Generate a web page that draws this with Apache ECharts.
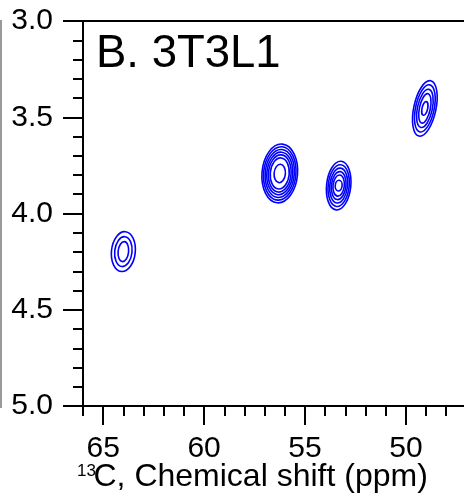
<!DOCTYPE html>
<html>
<head>
<meta charset="utf-8">
<script src="https://cdn.jsdelivr.net/npm/echarts@6.0.0/dist/echarts.min.js"></script>
<style>
html,body{margin:0;padding:0;background:#fff;}
#chart{width:464px;height:499px;}
</style>
</head>
<body>
<div id="chart"></div>
<script>
// ---- data (ppm) ----
const panelTitle = 'B. 3T3L1';
const xTickLabels = [50, 55, 60, 65];
const xMinorTicks = [48, 49, 51, 52, 53, 54, 56, 57, 58, 59, 61, 62, 63, 64, 66];
const yTickLabels = [3.0, 3.5, 4.0, 4.5, 5.0];
const peakC13 = [64.0, 56.25, 53.33, 49.06];
const peakH1 = [4.198, 3.792, 3.855, 3.454];
const peakTilt = [6, 5, 6, 12];
const ringHalfC13 = [
  [0.59, 0.43, 0.26],
  [0.88, 0.80, 0.72, 0.64, 0.56, 0.47, 0.28],
  [0.60, 0.52, 0.44, 0.36, 0.28, 0.17],
  [0.55, 0.46, 0.37, 0.27, 0.14]
];
const ringHalfH1 = [
  [0.104, 0.078, 0.052],
  [0.153, 0.139, 0.125, 0.111, 0.097, 0.081, 0.048],
  [0.127, 0.109, 0.091, 0.073, 0.055, 0.028],
  [0.147, 0.125, 0.101, 0.078, 0.036]
];

const ringData = [];
peakC13.forEach((c, i) => {
  ringHalfC13[i].forEach((rx, j) => {
    ringData.push([c, peakH1[i], rx * 2, ringHalfH1[i][j] * 2, peakTilt[i]]);
  });
});

const FONT = 'Liberation Sans, Arial, sans-serif';
const chart = echarts.init(document.getElementById('chart'), null, {renderer: 'canvas'});
const black = {color: '#000', width: 2};

chart.setOption({
  animation: false,
  backgroundColor: '#fff',
  grid: {left: 83, right: 0, top: 21, bottom: 93},
  xAxis: [
    {
      type: 'value', inverse: true, min: 47.12, max: 66, position: 'bottom',
      axisLine: {show: true, lineStyle: black},
      axisTick: {show: true, length: 19, lineStyle: black, customValues: xTickLabels},
      axisLabel: {show: true, customValues: xTickLabels, fontSize: 30, color: '#000', margin: 28, fontFamily: FONT},
      splitLine: {show: false}
    },
    {
      type: 'value', inverse: true, min: 47.12, max: 66, position: 'bottom',
      axisLine: {show: false},
      axisTick: {show: true, length: 10, lineStyle: black, customValues: xMinorTicks},
      axisLabel: {show: false},
      splitLine: {show: false}
    },
    {
      type: 'value', inverse: true, min: 47.12, max: 66, position: 'top',
      axisLine: {show: true, lineStyle: black},
      axisTick: {show: false},
      axisLabel: {show: false},
      splitLine: {show: false}
    }
  ],
  yAxis: {
    type: 'value', inverse: true, min: 3, max: 5, interval: 0.5,
    axisLine: {show: true, lineStyle: black},
    axisTick: {show: true, length: 20, lineStyle: black},
    minorTick: {show: true, splitNumber: 5, length: 10, lineStyle: black},
    axisLabel: {fontSize: 30, color: '#000', margin: 30, fontFamily: FONT,
      formatter: v => yTickLabels.indexOf(v) >= 0 ? v.toFixed(1) : ''},
    splitLine: {show: false},
    minorSplitLine: {show: false}
  },
  graphic: [
    {type: 'text', x: 96, y: 54, style: {text: panelTitle, fontSize: 45.5, fontFamily: FONT, fill: '#000', align: 'left', verticalAlign: 'middle'}},
    {type: 'text', x: 77, y: 471, style: {text: '13', fontSize: 17, fontFamily: FONT, fill: '#000', align: 'left', verticalAlign: 'middle'}},
    {type: 'text', x: 93.5, y: 477, style: {text: 'C, Chemical shift (ppm)', fontSize: 32, fontFamily: FONT, fill: '#000', align: 'left', verticalAlign: 'middle'}},
    {type: 'line', shape: {x1: 1, y1: 20, x2: 1, y2: 408}, style: {stroke: '#999', lineWidth: 2}}
  ],
  series: [{
    type: 'custom',
    xAxisIndex: 0,
    data: ringData,
    renderItem: function (params, api) {
      const cx = api.value(0), cy = api.value(1);
      const p = api.coord([cx, cy]);
      const s = api.size([api.value(2), api.value(3)], [cx, cy]);
      return {
        type: 'ellipse',
        x: p[0], y: p[1],
        rotation: -api.value(4) * Math.PI / 180,
        shape: {cx: 0, cy: 0, rx: s[0] / 2, ry: s[1] / 2},
        style: {fill: 'none', stroke: '#0000ff', lineWidth: 1.6}
      };
    }
  }]
});
</script>
</body>
</html>
